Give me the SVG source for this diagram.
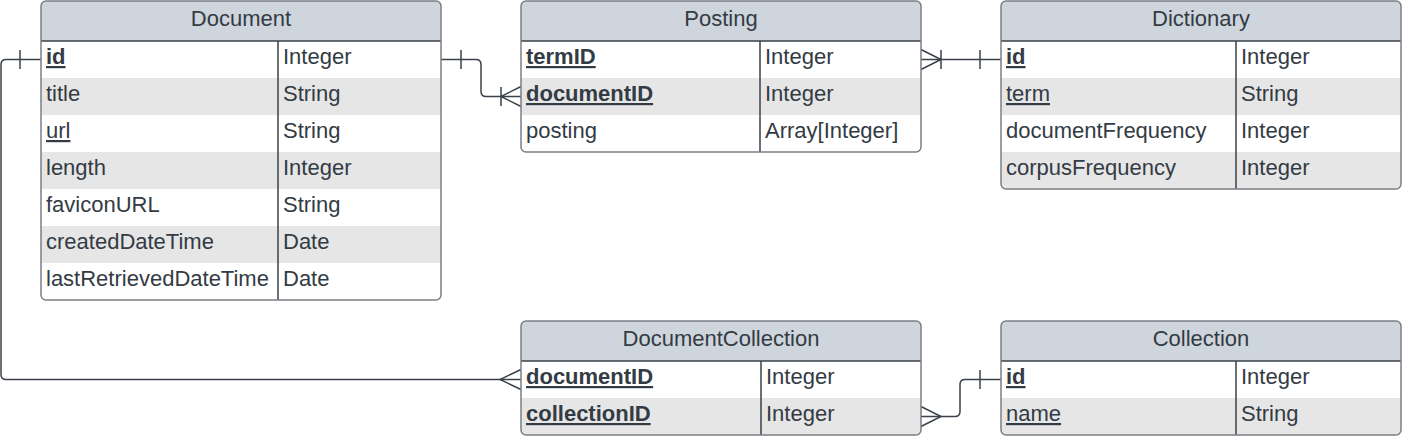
<svg xmlns="http://www.w3.org/2000/svg" width="1402" height="436" viewBox="0 0 1402 436">
<style>
  .hdr { fill: #cfd5dd; }
  .w { fill: #ffffff; }
  .g { fill: #e6e6e6; }
  .frame { fill: none; stroke: #7b7f85; stroke-width: 1.5; }
  .sep { stroke: #3a414a; stroke-width: 1.5; fill: none; }
  .t { font-family: "Liberation Sans", Arial, sans-serif; font-size: 22px; fill: #333b44; }
  .h { text-anchor: middle; }
  .k { font-weight: bold; text-decoration: underline; }
  .u { text-decoration: underline; }
  .c { stroke: #3a414a; stroke-width: 1.5; fill: none; }
</style>
<defs>
  <clipPath id="cDoc"><rect x="41" y="1" width="400" height="299" rx="5"/></clipPath>
  <clipPath id="cPost"><rect x="521" y="1" width="400" height="151" rx="5"/></clipPath>
  <clipPath id="cDict"><rect x="1001" y="1" width="400" height="188" rx="5"/></clipPath>
  <clipPath id="cDC"><rect x="521" y="321" width="400" height="114" rx="5"/></clipPath>
  <clipPath id="cCol"><rect x="1001" y="321" width="400" height="114" rx="5"/></clipPath>
</defs>
<rect width="1402" height="436" fill="#ffffff"/>

<g id="connectors">
  <!-- Document.id to DocumentCollection.documentID -->
  <path class="c" d="M41,59.5 H6 Q1,59.5 1,64.5 V374.5 Q1,379.5 6,379.5 H521"/>
  <path class="c" d="M20,50 V69"/>
  <path class="c" d="M521,369.5 L500,379.5 L521,389.5"/>
  <!-- Document.id to Posting.documentID -->
  <path class="c" d="M441,59.5 H476 Q481,59.5 481,64.5 V91.5 Q481,96.5 486,96.5 H521"/>
  <path class="c" d="M461,50 V69"/>
  <path class="c" d="M521,86.5 L501,96.5 L521,106.5 M501,87 V106"/>
  <!-- Posting.termID to Dictionary.id -->
  <path class="c" d="M921,59.5 H1001"/>
  <path class="c" d="M921,49.5 L941,59.5 L921,69.5 M941,50 V69"/>
  <path class="c" d="M980,50 V69"/>
  <!-- DocumentCollection.collectionID to Collection.id -->
  <path class="c" d="M921,416.5 H955 Q960,416.5 960,411.5 V384.5 Q960,379.5 965,379.5 H1001"/>
  <path class="c" d="M921,406.5 L941,416.5 L921,426.5"/>
  <path class="c" d="M980,370 V389"/>
</g>

<g id="Document">
  <g clip-path="url(#cDoc)">
    <rect class="hdr" x="41" y="1" width="400" height="40"/>
    <rect class="w" x="41" y="41" width="400" height="37"/>
    <rect class="g" x="41" y="78" width="400" height="37"/>
    <rect class="w" x="41" y="115" width="400" height="37"/>
    <rect class="g" x="41" y="152" width="400" height="37"/>
    <rect class="w" x="41" y="189" width="400" height="37"/>
    <rect class="g" x="41" y="226" width="400" height="37"/>
    <rect class="w" x="41" y="263" width="400" height="37"/>
  </g>
  <path class="sep" d="M41,41 H441 M278,41 V300"/>
  <rect class="frame" x="41" y="1" width="400" height="299" rx="5"/>
  <text class="t h" x="241" y="26">Document</text>
  <text class="t k" x="46" y="64">id</text><text class="t" x="283" y="64">Integer</text>
  <text class="t" x="46" y="101">title</text><text class="t" x="283" y="101">String</text>
  <text class="t u" x="46" y="138">url</text><text class="t" x="283" y="138">String</text>
  <text class="t" x="46" y="175">length</text><text class="t" x="283" y="175">Integer</text>
  <text class="t" x="46" y="212">faviconURL</text><text class="t" x="283" y="212">String</text>
  <text class="t" x="46" y="249">createdDateTime</text><text class="t" x="283" y="249">Date</text>
  <text class="t" x="46" y="286">lastRetrievedDateTime</text><text class="t" x="283" y="286">Date</text>
</g>

<g id="Posting">
  <g clip-path="url(#cPost)">
    <rect class="hdr" x="521" y="1" width="400" height="40"/>
    <rect class="w" x="521" y="41" width="400" height="37"/>
    <rect class="g" x="521" y="78" width="400" height="37"/>
    <rect class="w" x="521" y="115" width="400" height="37"/>
  </g>
  <path class="sep" d="M521,41 H921 M760,41 V152"/>
  <rect class="frame" x="521" y="1" width="400" height="151" rx="5"/>
  <text class="t h" x="721" y="26">Posting</text>
  <text class="t k" x="526" y="64">termID</text><text class="t" x="765" y="64">Integer</text>
  <text class="t k" x="526" y="101">documentID</text><text class="t" x="765" y="101">Integer</text>
  <text class="t" x="526" y="138">posting</text><text class="t" x="765" y="138">Array[Integer]</text>
</g>

<g id="Dictionary">
  <g clip-path="url(#cDict)">
    <rect class="hdr" x="1001" y="1" width="400" height="40"/>
    <rect class="w" x="1001" y="41" width="400" height="37"/>
    <rect class="g" x="1001" y="78" width="400" height="37"/>
    <rect class="w" x="1001" y="115" width="400" height="37"/>
    <rect class="g" x="1001" y="152" width="400" height="37"/>
  </g>
  <path class="sep" d="M1001,41 H1401 M1236,41 V189"/>
  <rect class="frame" x="1001" y="1" width="400" height="188" rx="5"/>
  <text class="t h" x="1201" y="26">Dictionary</text>
  <text class="t k" x="1006" y="64">id</text><text class="t" x="1241" y="64">Integer</text>
  <text class="t u" x="1006" y="101">term</text><text class="t" x="1241" y="101">String</text>
  <text class="t" x="1006" y="138">documentFrequency</text><text class="t" x="1241" y="138">Integer</text>
  <text class="t" x="1006" y="175">corpusFrequency</text><text class="t" x="1241" y="175">Integer</text>
</g>

<g id="DocumentCollection">
  <g clip-path="url(#cDC)">
    <rect class="hdr" x="521" y="321" width="400" height="40"/>
    <rect class="w" x="521" y="361" width="400" height="37"/>
    <rect class="g" x="521" y="398" width="400" height="37"/>
  </g>
  <path class="sep" d="M521,361 H921 M761,361 V435"/>
  <rect class="frame" x="521" y="321" width="400" height="114" rx="5"/>
  <text class="t h" x="721" y="346">DocumentCollection</text>
  <text class="t k" x="526" y="384">documentID</text><text class="t" x="766" y="384">Integer</text>
  <text class="t k" x="526" y="421">collectionID</text><text class="t" x="766" y="421">Integer</text>
</g>

<g id="Collection">
  <g clip-path="url(#cCol)">
    <rect class="hdr" x="1001" y="321" width="400" height="40"/>
    <rect class="w" x="1001" y="361" width="400" height="37"/>
    <rect class="g" x="1001" y="398" width="400" height="37"/>
  </g>
  <path class="sep" d="M1001,361 H1401 M1236,361 V435"/>
  <rect class="frame" x="1001" y="321" width="400" height="114" rx="5"/>
  <text class="t h" x="1201" y="346">Collection</text>
  <text class="t k" x="1006" y="384">id</text><text class="t" x="1241" y="384">Integer</text>
  <text class="t u" x="1006" y="421">name</text><text class="t" x="1241" y="421">String</text>
</g>
</svg>
